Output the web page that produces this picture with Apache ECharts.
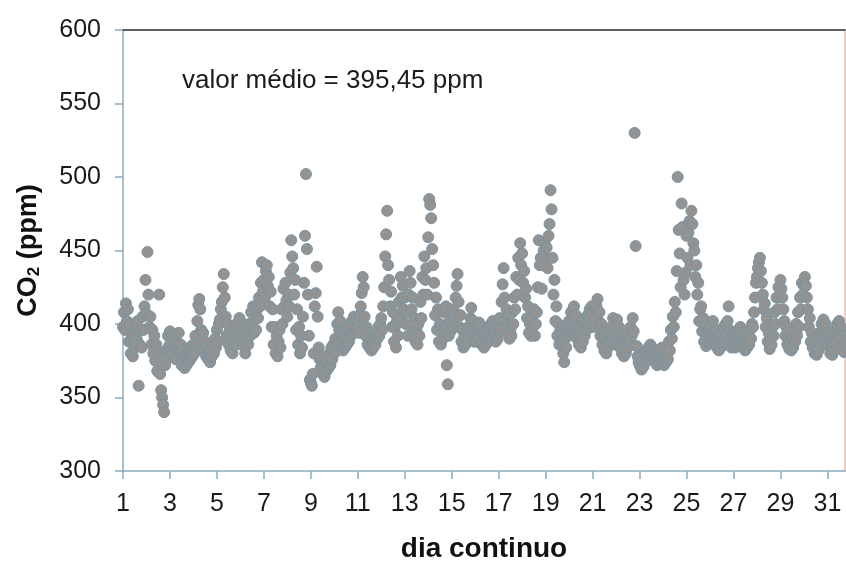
<!DOCTYPE html>
<html>
<head>
<meta charset="utf-8">
<script src="https://cdn.jsdelivr.net/npm/echarts@6/dist/echarts.min.js"></script>
<style>
  html, body { margin: 0; padding: 0; background: #ffffff; }
  #chart { width: 846px; height: 568px; }
</style>
</head>
<body>
<div id="chart"></div>
<script>
// Hourly CO2 readings (ppm), one row per day, hours 0..23
const firstDay = 1;
const samplesPerDay = 24;
const co2ByDay = [
  [398, 408, 396, 414, 402, 410, 388, 400, 380, 392, 378, 389, 384, 398, 390, 402, 358, 386, 396, 384, 405, 396, 412, 430],
  [407, 449, 420, 398, 405, 386, 396, 380, 392, 375, 386, 368, 380, 420, 366, 355, 350, 345, 340, 372, 382, 376, 392, 385],
  [395, 386, 392, 380, 390, 384, 376, 388, 382, 394, 380, 386, 372, 382, 376, 370, 378, 372, 380, 374, 382, 376, 385, 378],
  [386, 380, 392, 386, 402, 413, 417, 410, 396, 388, 394, 382, 388, 378, 384, 376, 380, 374, 382, 378, 386, 380, 390, 384],
  [396, 388, 400, 403, 410, 415, 425, 434, 418, 405, 392, 400, 386, 395, 382, 390, 380, 388, 395, 386, 400, 392, 398, 404],
  [402, 392, 398, 385, 392, 380, 388, 394, 386, 400, 392, 408, 398, 412, 394, 404, 396, 410, 404, 418, 412, 428, 442, 422],
  [430, 418, 436, 440, 426, 432, 412, 422, 398, 410, 386, 398, 380, 392, 378, 388, 396, 384, 410, 400, 424, 412, 428, 416],
  [405, 420, 412, 435, 457, 446, 438, 420, 430, 396, 410, 386, 398, 380, 392, 384, 405, 428, 460, 502, 451, 420, 392, 362],
  [360, 358, 366, 380, 412, 421, 439, 405, 384, 376, 370, 378, 366, 372, 364, 374, 368, 376, 370, 380, 372, 384, 376, 386],
  [380, 390, 385, 400, 408, 396, 402, 388, 394, 382, 390, 384, 392, 386, 396, 388, 398, 392, 402, 394, 405, 398, 404, 396],
  [402, 394, 406, 412, 421, 432, 425, 405, 392, 398, 386, 394, 384, 390, 382, 388, 384, 392, 386, 394, 390, 398, 392, 400],
  [404, 396, 412, 425, 446, 461, 477, 440, 430, 412, 422, 398, 408, 388, 398, 384, 402, 392, 415, 404, 432, 418, 426, 410],
  [418, 400, 408, 392, 420, 436, 428, 410, 418, 396, 404, 388, 396, 386, 400, 392, 415, 404, 432, 420, 446, 430, 438, 420],
  [459, 485, 481, 472, 451, 440, 428, 406, 418, 396, 410, 388, 400, 386, 398, 390, 408, 396, 412, 372, 359, 392, 402, 395],
  [410, 398, 404, 408, 418, 426, 434, 415, 398, 406, 388, 396, 384, 392, 386, 394, 388, 398, 392, 404, 411, 396, 402, 388],
  [396, 388, 400, 392, 401, 390, 398, 386, 394, 384, 392, 386, 396, 388, 398, 390, 400, 392, 402, 394, 398, 388, 396, 390],
  [398, 404, 396, 415, 427, 438, 418, 402, 410, 394, 400, 390, 396, 392, 408, 400, 418, 410, 432, 420, 445, 430, 455, 440],
  [448, 428, 436, 418, 424, 404, 412, 394, 400, 392, 405, 398, 410, 392, 400, 408, 425, 457, 440, 445, 424, 440, 450, 455],
  [444, 452, 438, 460, 468, 491, 478, 445, 420, 430, 402, 412, 392, 400, 386, 396, 388, 398, 380, 374, 390, 384, 398, 392],
  [402, 396, 408, 398, 410, 412, 400, 406, 390, 398, 386, 392, 384, 394, 388, 400, 392, 404, 396, 406, 400, 410, 404, 412],
  [408, 398, 404, 410, 412, 417, 402, 408, 392, 400, 386, 394, 382, 390, 380, 388, 384, 394, 388, 398, 392, 404, 396, 390],
  [386, 403, 392, 398, 384, 392, 380, 388, 378, 386, 380, 390, 384, 394, 388, 398, 392, 404, 395, 530, 453, 385, 378, 374],
  [372, 378, 369, 375, 371, 380, 374, 382, 376, 384, 378, 386, 380, 384, 377, 382, 374, 380, 372, 378, 374, 382, 376, 384],
  [378, 372, 376, 374, 380, 376, 388, 382, 396, 390, 405, 398, 415, 408, 436, 500, 464, 448, 425, 482, 466, 430, 420, 435],
  [460, 445, 462, 470, 440, 477, 468, 455, 450, 432, 440, 420, 428, 402, 410, 412, 395, 404, 388, 398, 385, 394, 388, 396],
  [390, 398, 392, 402, 394, 388, 396, 384, 392, 382, 390, 384, 394, 386, 398, 388, 400, 392, 402, 412, 396, 390, 384, 392],
  [385, 392, 384, 394, 386, 396, 388, 398, 390, 394, 384, 390, 382, 388, 384, 392, 386, 396, 390, 400, 398, 408, 418, 428],
  [432, 438, 442, 445, 436, 428, 420, 410, 414, 398, 404, 388, 394, 383, 390, 386, 398, 392, 408, 400, 418, 410, 425, 418],
  [430, 424, 418, 410, 402, 392, 398, 386, 390, 383, 388, 382, 390, 384, 394, 388, 400, 392, 408, 398, 418, 410, 428, 420],
  [426, 432, 426, 418, 410, 398, 404, 388, 394, 384, 390, 380, 386, 379, 388, 382, 394, 386, 400, 392, 403, 396, 400, 388],
  [394, 385, 390, 380, 386, 379, 388, 382, 396, 388, 400, 392, 402, 394, 398, 386, 392, 381, 388, 380]
];

// Axis ranges and tick spacing
const xRange = [1, 31.75];
const xStep = 2;
const yRange = [300, 600];
const yStep = 50;
const meanLabel = 'valor médio = 395,45 ppm';

// (day, ppm) pairs for the scatter series
const points = [];
co2ByDay.forEach((row, d) => {
  row.forEach((v, h) => {
    points.push([firstDay + d + h / samplesPerDay, v]);
  });
});

const axisBlue = '#8aaabd';
const textFont = 'Liberation Sans, Arial, sans-serif';

const chart = echarts.init(document.getElementById('chart'), null, { renderer: 'canvas' });
chart.setOption({
  animation: false,
  backgroundColor: '#ffffff',
  grid: { left: 123, right: 1, top: 30, bottom: 96, containLabel: false },
  title: {
    text: meanLabel,
    left: 177,
    top: 63,
    textStyle: { fontFamily: textFont, fontSize: 26, fontWeight: 'normal', color: '#1a1a1a' }
  },
  xAxis: [
    {
      type: 'value',
      min: xRange[0],
      max: xRange[1],
      interval: xStep,
      name: 'dia continuo',
      nameLocation: 'middle',
      nameGap: 64,
      nameTextStyle: { fontFamily: textFont, fontSize: 28, fontWeight: 'bold', color: '#111' },
      axisLine: { onZero: false, lineStyle: { color: axisBlue, width: 1.5 } },
      axisTick: { show: true, inside: false, length: 8, lineStyle: { color: axisBlue, width: 1.5 } },
      axisLabel: {
        margin: 21,
        fontFamily: textFont,
        fontSize: 25,
        color: '#1a1a1a',
        showMaxLabel: false,
        formatter: v => (Number.isInteger(v) ? String(v) : '')
      },
      splitLine: { show: false }
    },
    {
      type: 'value',
      position: 'top',
      min: xRange[0],
      max: xRange[1],
      axisLine: { show: true, onZero: false, lineStyle: { color: '#2a2a2a', width: 1.5 } },
      axisTick: { show: false },
      axisLabel: { show: false },
      splitLine: { show: false }
    }
  ],
  yAxis: [
    {
      type: 'value',
      min: yRange[0],
      max: yRange[1],
      interval: yStep,
      name: '{b|CO}{s|2}{b| (ppm)}',
      nameLocation: 'middle',
      nameGap: 80,
      nameRotate: 90,
      nameTextStyle: {
        rich: {
          b: { fontFamily: textFont, fontSize: 27, fontWeight: 'bold', color: '#111' },
          s: { fontFamily: textFont, fontSize: 17, fontWeight: 'bold', color: '#111', padding: [12, 0, 0, 0] }
        }
      },
      axisLine: { show: true, onZero: false, lineStyle: { color: axisBlue, width: 1.5 } },
      axisTick: { show: true, inside: false, length: 8, lineStyle: { color: axisBlue, width: 1.5 } },
      axisLabel: { margin: 22, fontFamily: textFont, fontSize: 25, color: '#1a1a1a' },
      splitLine: { show: false }
    },
    {
      type: 'value',
      position: 'right',
      min: yRange[0],
      max: yRange[1],
      axisLine: { show: true, onZero: false, lineStyle: { color: '#e3bfb3', width: 1.5 } },
      axisTick: { show: false },
      axisLabel: { show: false },
      splitLine: { show: false }
    }
  ],
  series: [
    {
      type: 'scatter',
      xAxisIndex: 0,
      yAxisIndex: 0,
      data: points,
      symbol: 'circle',
      symbolSize: 11,
      itemStyle: { color: '#939393', borderColor: '#7a93a2', borderWidth: 1, opacity: 1 }
    }
  ]
});
</script>
</body>
</html>
